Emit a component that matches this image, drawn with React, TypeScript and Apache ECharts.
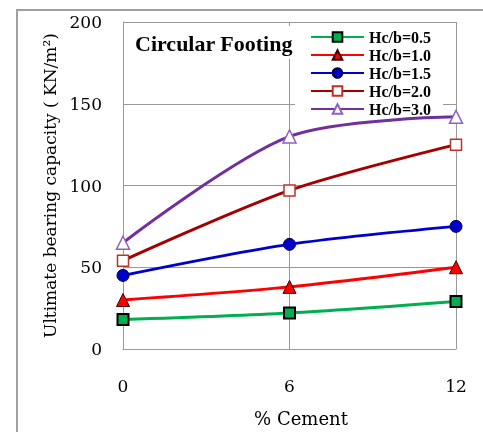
import React, { useEffect, useRef } from "react";
import * as echarts from "echarts";

const cementPct = [0, 6, 12];
const seriesNames = ["Hc/b=0.5", "Hc/b=1.0", "Hc/b=1.5", "Hc/b=2.0", "Hc/b=3.0"];
const hc05 = [18, 22, 29];
const hc10 = [30, 38, 50];
const hc15 = [45, 64, 75];
const hc20 = [54, 97, 125];
const hc30 = [65, 130, 142];
const yTicks = [0, 50, 100, 150, 200];

const TIMES = "'Liberation Serif', 'Times New Roman', serif";
const WIDE = "'DejaVu Serif', serif";

export default function App() {
  const ref = useRef<HTMLDivElement>(null);
  useEffect(() => {
    if (!ref.current) return;
    const chart = echarts.init(ref.current, null, { renderer: "svg" });
    const pts = (vals: number[]) => cementPct.map((x, i) => [x, vals[i]]);
    const styles = [
      { data: hc05, color: "#00B050", symbol: "rect", size: 11, fill: "#00B050", border: "#000", bw: 2 },
      { data: hc10, color: "#FF0000", symbol: "triangle", size: 13, fill: "#FF0000", border: "#400000", bw: 1 },
      { data: hc15, color: "#0000CC", symbol: "circle", size: 12, fill: "#0000CC", border: "#000040", bw: 1 },
      { data: hc20, color: "#A50000", symbol: "rect", size: 11, fill: "#FFFFFF", border: "#C0302A", bw: 1.5 },
      { data: hc30, color: "#7030A0", symbol: "triangle", size: 13, fill: "#FFFFFF", border: "#9060C0", bw: 1.5 },
    ];
    chart.setOption({
      animation: false,
      grid: { left: 123, right: 27, top: 22, bottom: 80 },
      graphic: [
        {
          type: "rect",
          shape: { x: 17, y: 10, width: 500, height: 440 },
          style: { fill: "none", stroke: "#A0A0A0", lineWidth: 2 },
          silent: true,
        },
        {
          type: "text",
          left: 131,
          top: 26,
          z: 100,
          style: {
            text: "Circular Footing",
            font: `bold 22px ${TIMES}`,
            fill: "#000",
            backgroundColor: "#fff",
            padding: [6, 4, 5, 4],
          },
        },
      ],
      legend: {
        left: 295,
        top: 23,
        z: 1,
        orient: "vertical",
        backgroundColor: "#fff",
        padding: [6, 12, 0, 15],
        itemWidth: 53,
        itemHeight: 12,
        itemGap: 2,
        textStyle: { fontFamily: TIMES, fontWeight: "bold", fontSize: 16, color: "#000" },
        data: seriesNames,
      },
      xAxis: {
        type: "value",
        min: 0,
        max: 12,
        interval: 6,
        name: "% Cement",
        nameLocation: "middle",
        nameGap: 60,
        nameTextStyle: { fontFamily: WIDE, fontSize: 18, color: "#000", padding: [0, 0, 0, 23] },
        axisLine: { show: true, lineStyle: { color: "#999", width: 1 } },
        axisTick: { show: false },
        axisLabel: { margin: 28, fontFamily: WIDE, fontSize: 17, color: "#000" },
        splitLine: { show: true, lineStyle: { color: "#999", width: 1 } },
      },
      yAxis: {
        type: "value",
        min: 0,
        max: 200,
        interval: 50,
        name: "Ultimate bearing capacity ( KN/m²)",
        nameLocation: "middle",
        nameGap: 63,
        nameTextStyle: { fontFamily: WIDE, fontSize: 17, color: "#000" },
        axisLine: { show: true, lineStyle: { color: "#999", width: 1 } },
        axisTick: { show: false },
        axisLabel: {
          margin: 21,
          fontFamily: WIDE,
          fontSize: 17,
          color: "#000",
          formatter: (v: number) => (yTicks.includes(v) ? String(v) : ""),
        },
        splitLine: { show: true, lineStyle: { color: "#999", width: 1 } },
      },
      series: styles.map((s, i) => ({
        name: seriesNames[i],
        type: "line",
        smooth: 0.3,
        data: pts(s.data),
        symbol: s.symbol,
        symbolSize: s.size,
        lineStyle: { color: s.color, width: 3 },
        itemStyle: { color: s.fill, borderColor: s.border, borderWidth: s.bw },
        z: 3 + i,
      })),
    });
    return () => chart.dispose();
  }, []);
  return <div ref={ref} style={{ position: "fixed", left: 0, top: 0, width: 483, height: 432 }} />;
}
